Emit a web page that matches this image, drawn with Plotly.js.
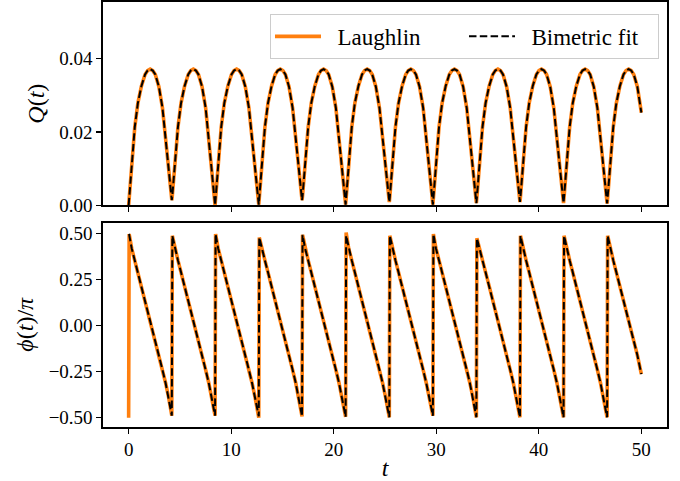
<!DOCTYPE html>
<html>
<head>
<meta charset="utf-8">
<script src="https://cdn.plot.ly/plotly-3.0.1.min.js"></script>
<style>
  html, body { margin: 0; padding: 0; background: #ffffff; }
  #chart { width: 680px; height: 481px; }
</style>
</head>
<body>
<div id="chart"></div>
<script>
// Time samples, one row per oscillation cycle (a cycle starts where Q(t) touches zero
// and the phase wraps from -pi/2 back to +pi/2).
const t = [
  0.00, 0.05, 0.30, 0.60, 0.90, 1.25, 1.60, 1.85, 2.10, 2.35, 2.60, 2.95, 3.30, 3.60, 3.90,
  4.21, 4.26, 4.51, 4.81, 5.11, 5.46, 5.81, 6.06, 6.31, 6.56, 6.81, 7.16, 7.51, 7.81, 8.11,
  8.43, 8.48, 8.73, 9.03, 9.33, 9.68, 10.03, 10.28, 10.53, 10.78, 11.03, 11.38, 11.73, 12.03, 12.33,
  12.69, 12.74, 12.99, 13.29, 13.59, 13.94, 14.29, 14.54, 14.79, 15.04, 15.29, 15.64, 15.99, 16.29, 16.59,
  16.91, 16.96, 17.21, 17.51, 17.81, 18.16, 18.51, 18.76, 19.01, 19.26, 19.51, 19.86, 20.21, 20.51, 20.81,
  21.16, 21.21, 21.46, 21.76, 22.06, 22.41, 22.76, 23.01, 23.26, 23.51, 23.76, 24.11, 24.46, 24.76, 25.06,
  25.42, 25.47, 25.72, 26.02, 26.32, 26.67, 27.02, 27.27, 27.52, 27.77, 28.02, 28.37, 28.72, 29.02, 29.32,
  29.67, 29.72, 29.97, 30.27, 30.57, 30.92, 31.27, 31.52, 31.77, 32.02, 32.27, 32.62, 32.97, 33.27, 33.57,
  33.91, 33.96, 34.21, 34.51, 34.81, 35.16, 35.51, 35.76, 36.01, 36.26, 36.51, 36.86, 37.21, 37.51, 37.81,
  38.16, 38.21, 38.46, 38.76, 39.06, 39.41, 39.76, 40.01, 40.26, 40.51, 40.76, 41.11, 41.46, 41.76, 42.06,
  42.41, 42.46, 42.71, 43.01, 43.31, 43.66, 44.01, 44.26, 44.51, 44.76, 45.01, 45.36, 45.71, 46.01, 46.31,
  46.66, 46.71, 46.96, 47.26, 47.56, 47.91, 48.26, 48.51, 48.76, 49.01, 49.26, 49.61, 50.00
];

// Q(t), Laughlin state
const qLaughlin = [
  0.0000, 0.0019, 0.0115, 0.0214, 0.0279, 0.0326, 0.0357, 0.0368, 0.0372, 0.0368, 0.0357, 0.0324, 0.0266, 0.0186, 0.0093,
  0.0014, 0.0026, 0.0115, 0.0214, 0.0279, 0.0326, 0.0357, 0.0368, 0.0372, 0.0368, 0.0357, 0.0324, 0.0266, 0.0186, 0.0093,
  0.0000, 0.0019, 0.0115, 0.0214, 0.0279, 0.0326, 0.0357, 0.0368, 0.0372, 0.0368, 0.0357, 0.0324, 0.0266, 0.0186, 0.0093,
  0.0002, 0.0020, 0.0115, 0.0214, 0.0279, 0.0326, 0.0357, 0.0368, 0.0372, 0.0368, 0.0357, 0.0324, 0.0266, 0.0186, 0.0093,
  0.0014, 0.0026, 0.0115, 0.0214, 0.0279, 0.0326, 0.0357, 0.0368, 0.0372, 0.0368, 0.0357, 0.0324, 0.0266, 0.0186, 0.0093,
  0.0002, 0.0020, 0.0115, 0.0214, 0.0279, 0.0326, 0.0357, 0.0368, 0.0372, 0.0368, 0.0357, 0.0324, 0.0266, 0.0186, 0.0093,
  0.0009, 0.0023, 0.0115, 0.0214, 0.0279, 0.0326, 0.0357, 0.0368, 0.0372, 0.0368, 0.0357, 0.0324, 0.0266, 0.0186, 0.0093,
  0.0002, 0.0020, 0.0115, 0.0214, 0.0279, 0.0326, 0.0357, 0.0368, 0.0372, 0.0368, 0.0357, 0.0324, 0.0266, 0.0186, 0.0093,
  0.0006, 0.0022, 0.0115, 0.0214, 0.0279, 0.0326, 0.0357, 0.0368, 0.0372, 0.0368, 0.0357, 0.0324, 0.0266, 0.0186, 0.0093,
  0.0009, 0.0023, 0.0115, 0.0214, 0.0279, 0.0326, 0.0357, 0.0368, 0.0372, 0.0368, 0.0357, 0.0324, 0.0266, 0.0186, 0.0093,
  0.0006, 0.0022, 0.0115, 0.0214, 0.0279, 0.0326, 0.0357, 0.0368, 0.0372, 0.0368, 0.0357, 0.0324, 0.0266, 0.0186, 0.0093,
  0.0005, 0.0021, 0.0115, 0.0214, 0.0279, 0.0326, 0.0357, 0.0368, 0.0372, 0.0368, 0.0357, 0.0324, 0.0253
];

// Q(t), bimetric fit
const qFit = [
  0.0000, 0.0019, 0.0115, 0.0214, 0.0279, 0.0326, 0.0357, 0.0368, 0.0372, 0.0368, 0.0357, 0.0324, 0.0266, 0.0186, 0.0093,
  0.0014, 0.0026, 0.0115, 0.0214, 0.0279, 0.0326, 0.0357, 0.0368, 0.0372, 0.0368, 0.0357, 0.0324, 0.0266, 0.0186, 0.0093,
  0.0000, 0.0019, 0.0115, 0.0214, 0.0279, 0.0326, 0.0357, 0.0368, 0.0372, 0.0368, 0.0357, 0.0324, 0.0266, 0.0186, 0.0093,
  0.0002, 0.0020, 0.0115, 0.0214, 0.0279, 0.0326, 0.0357, 0.0368, 0.0372, 0.0368, 0.0357, 0.0324, 0.0266, 0.0186, 0.0093,
  0.0014, 0.0026, 0.0115, 0.0214, 0.0279, 0.0326, 0.0357, 0.0368, 0.0372, 0.0368, 0.0357, 0.0324, 0.0266, 0.0186, 0.0093,
  0.0002, 0.0020, 0.0115, 0.0214, 0.0279, 0.0326, 0.0357, 0.0368, 0.0372, 0.0368, 0.0357, 0.0324, 0.0266, 0.0186, 0.0093,
  0.0009, 0.0023, 0.0115, 0.0214, 0.0279, 0.0326, 0.0357, 0.0368, 0.0372, 0.0368, 0.0357, 0.0324, 0.0266, 0.0186, 0.0093,
  0.0002, 0.0020, 0.0115, 0.0214, 0.0279, 0.0326, 0.0357, 0.0368, 0.0372, 0.0368, 0.0357, 0.0324, 0.0266, 0.0186, 0.0093,
  0.0006, 0.0022, 0.0115, 0.0214, 0.0279, 0.0326, 0.0357, 0.0368, 0.0372, 0.0368, 0.0357, 0.0324, 0.0266, 0.0186, 0.0093,
  0.0009, 0.0023, 0.0115, 0.0214, 0.0279, 0.0326, 0.0357, 0.0368, 0.0372, 0.0368, 0.0357, 0.0324, 0.0266, 0.0186, 0.0093,
  0.0006, 0.0022, 0.0115, 0.0214, 0.0279, 0.0326, 0.0357, 0.0368, 0.0372, 0.0368, 0.0357, 0.0324, 0.0266, 0.0186, 0.0093,
  0.0005, 0.0021, 0.0115, 0.0214, 0.0279, 0.0326, 0.0357, 0.0368, 0.0372, 0.0368, 0.0357, 0.0324, 0.0253
];

// phi(t)/pi, Laughlin state
const phiLaughlin = [
  -0.500, 0.498, 0.420, 0.355, 0.290, 0.215, 0.140, 0.085, 0.030, -0.025, -0.080, -0.160, -0.240, -0.310, -0.390,
  -0.489, 0.489, 0.420, 0.355, 0.290, 0.215, 0.140, 0.085, 0.030, -0.025, -0.080, -0.160, -0.240, -0.310, -0.390,
  -0.489, 0.498, 0.420, 0.355, 0.290, 0.215, 0.140, 0.085, 0.030, -0.025, -0.080, -0.160, -0.240, -0.310, -0.390,
  -0.500, 0.480, 0.415, 0.355, 0.290, 0.215, 0.140, 0.085, 0.030, -0.025, -0.080, -0.160, -0.240, -0.310, -0.390,
  -0.493, 0.494, 0.420, 0.355, 0.290, 0.215, 0.140, 0.085, 0.030, -0.025, -0.080, -0.160, -0.240, -0.310, -0.390,
  -0.495, 0.507, 0.420, 0.355, 0.290, 0.215, 0.140, 0.085, 0.030, -0.025, -0.080, -0.160, -0.240, -0.310, -0.390,
  -0.498, 0.489, 0.420, 0.355, 0.290, 0.215, 0.140, 0.085, 0.030, -0.025, -0.080, -0.160, -0.240, -0.310, -0.390,
  -0.489, 0.498, 0.420, 0.355, 0.290, 0.215, 0.140, 0.085, 0.030, -0.025, -0.080, -0.160, -0.240, -0.310, -0.390,
  -0.498, 0.475, 0.415, 0.355, 0.290, 0.215, 0.140, 0.085, 0.030, -0.025, -0.080, -0.160, -0.240, -0.310, -0.390,
  -0.498, 0.489, 0.420, 0.355, 0.290, 0.215, 0.140, 0.085, 0.030, -0.025, -0.080, -0.160, -0.240, -0.310, -0.390,
  -0.498, 0.489, 0.420, 0.355, 0.290, 0.215, 0.140, 0.085, 0.030, -0.025, -0.080, -0.160, -0.240, -0.310, -0.390,
  -0.498, 0.489, 0.420, 0.355, 0.290, 0.215, 0.140, 0.085, 0.030, -0.025, -0.080, -0.160, -0.263
];

// phi(t)/pi, bimetric fit
const phiFit = [
  0.498, 0.495, 0.420, 0.355, 0.290, 0.215, 0.140, 0.085, 0.030, -0.025, -0.080, -0.160, -0.240, -0.310, -0.390,
  -0.489, 0.489, 0.420, 0.355, 0.290, 0.215, 0.140, 0.085, 0.030, -0.025, -0.080, -0.160, -0.240, -0.310, -0.390,
  -0.489, 0.498, 0.420, 0.355, 0.290, 0.215, 0.140, 0.085, 0.030, -0.025, -0.080, -0.160, -0.240, -0.310, -0.390,
  -0.492, 0.480, 0.415, 0.355, 0.290, 0.215, 0.140, 0.085, 0.030, -0.025, -0.080, -0.160, -0.240, -0.310, -0.390,
  -0.493, 0.494, 0.420, 0.355, 0.290, 0.215, 0.140, 0.085, 0.030, -0.025, -0.080, -0.160, -0.240, -0.310, -0.390,
  -0.495, 0.490, 0.425, 0.355, 0.290, 0.215, 0.140, 0.085, 0.030, -0.025, -0.080, -0.160, -0.240, -0.310, -0.390,
  -0.498, 0.489, 0.420, 0.355, 0.290, 0.215, 0.140, 0.085, 0.030, -0.025, -0.080, -0.160, -0.240, -0.310, -0.390,
  -0.489, 0.498, 0.420, 0.355, 0.290, 0.215, 0.140, 0.085, 0.030, -0.025, -0.080, -0.160, -0.240, -0.310, -0.390,
  -0.498, 0.475, 0.415, 0.355, 0.290, 0.215, 0.140, 0.085, 0.030, -0.025, -0.080, -0.160, -0.240, -0.310, -0.390,
  -0.498, 0.489, 0.420, 0.355, 0.290, 0.215, 0.140, 0.085, 0.030, -0.025, -0.080, -0.160, -0.240, -0.310, -0.390,
  -0.498, 0.489, 0.420, 0.355, 0.290, 0.215, 0.140, 0.085, 0.030, -0.025, -0.080, -0.160, -0.240, -0.310, -0.390,
  -0.498, 0.489, 0.420, 0.355, 0.290, 0.215, 0.140, 0.085, 0.030, -0.025, -0.080, -0.160, -0.263
];

const qTicks = [0, 0.02, 0.04];
const qTickText = ['0.00', '0.02', '0.04'];
const phiTicks = [-0.5, -0.25, 0, 0.25, 0.5];
const phiTickText = ['\u22120.50', '\u22120.25', '0.00', '0.25', '0.50'];
const tTicks = [0, 10, 20, 30, 40, 50];

const SERIF = 'Liberation Serif, Times New Roman, serif';
const ORANGE = '#ff7f0e';

const laughlinLine = { color: ORANGE, width: 3.6 };
const fitLine = { color: '#000000', width: 2, dash: '7.5px,3.3px' };

// legend labels are preceded by an en space to leave room after the line sample
const traces = [
  { x: t, y: qLaughlin, xaxis: 'x', yaxis: 'y', type: 'scatter', mode: 'lines',
    name: '\u2002Laughlin', legendgroup: 'L', line: laughlinLine },
  { x: t, y: qFit, xaxis: 'x', yaxis: 'y', type: 'scatter', mode: 'lines',
    name: '\u2002Bimetric fit', legendgroup: 'B', line: fitLine },
  { x: t, y: phiLaughlin, xaxis: 'x2', yaxis: 'y2', type: 'scatter', mode: 'lines',
    name: 'Laughlin', legendgroup: 'L', showlegend: false, line: laughlinLine },
  { x: t, y: phiFit, xaxis: 'x2', yaxis: 'y2', type: 'scatter', mode: 'lines',
    name: 'Bimetric fit', legendgroup: 'B', showlegend: false, line: fitLine }
];

const frame = {
  showline: true, mirror: true, linecolor: '#000000', linewidth: 1.6,
  ticks: 'outside', ticklen: 5, tickwidth: 1.2, tickcolor: '#000000',
  showgrid: false, zeroline: false,
  tickfont: { family: SERIF, size: 19, color: '#000000' }
};

const titleFont = { family: SERIF, size: 24, color: '#000000' };

const layout = {
  width: 680, height: 481,
  margin: { l: 103, r: 13, t: 2, b: 54 },
  paper_bgcolor: '#ffffff', plot_bgcolor: '#ffffff',
  showlegend: true,
  legend: {
    orientation: 'h', x: 0.9858, xanchor: 'right', y: 0.972, yanchor: 'top',
    bgcolor: 'rgba(255,255,255,0.8)', bordercolor: '#cccccc', borderwidth: 1,
    font: { family: SERIF, size: 23, color: '#000000' },
    itemwidth: 46, entrywidth: 133, entrywidthmode: 'pixels'
  },
  xaxis: Object.assign({}, frame, {
    domain: [0, 1], anchor: 'y', range: [-2.5, 52.5], matches: 'x2',
    tickvals: tTicks, showticklabels: false
  }),
  yaxis: Object.assign({}, frame, {
    domain: [0.5216, 1], anchor: 'x', range: [0, 0.0555],
    tickvals: qTicks, ticktext: qTickText,
    title: { text: '<i>Q</i>(<i>t</i>)', font: titleFont, standoff: 8 }
  }),
  xaxis2: Object.assign({}, frame, {
    domain: [0, 1], anchor: 'y2', range: [-2.5, 52.5],
    tickvals: tTicks,
    title: { text: '<i>t</i>', font: titleFont, standoff: 4 }
  }),
  yaxis2: Object.assign({}, frame, {
    domain: [0, 0.481], anchor: 'x2', range: [-0.5505, 0.5605],
    tickvals: phiTicks, ticktext: phiTickText,
    title: { text: '<i>ϕ</i>(<i>t</i>)/<i>π</i>', font: titleFont, standoff: 8 }
  })
};

Plotly.newPlot('chart', traces, layout, { staticPlot: true, displayModeBar: false });
</script>
</body>
</html>
